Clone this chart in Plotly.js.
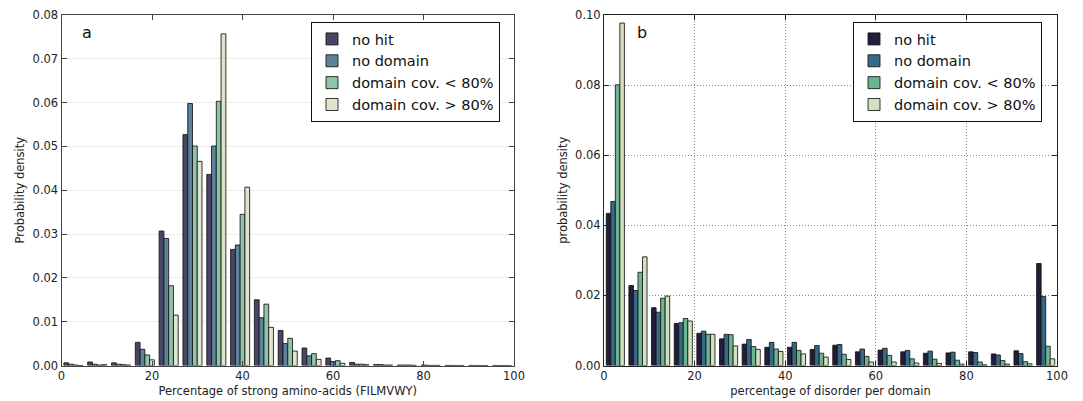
<!DOCTYPE html>
<html>
<head>
<meta charset="utf-8">
<script src="https://cdn.plot.ly/plotly-3.0.1.min.js"></script>
<style>html,body{margin:0;padding:0;background:#fff;}#chart{width:1083px;height:401px;}</style>
</head>
<body>
<div id="chart"></div>
<script>
// ---- Data ----
const seriesNames = ["no hit", "no domain", "domain cov. < 80%", "domain cov. > 80%"];

// Panel a: 19 bins across 0..100 (Percentage of strong amino-acids)
const binCountA = 19;
const noHitA      = [0.0006,0.0008,0.0006,0.0053,0.0307,0.0527,0.0436,0.0265,0.0150,0.0080,0.0040,0.0017,0.0007,0.0002,0.0001,0.0001,0.00003,0.00002,0.00001];
const noDomainA   = [0.0003,0.0003,0.0003,0.0037,0.0290,0.0598,0.0501,0.0275,0.0109,0.0050,0.0022,0.0009,0.0003,0.0002,0.0001,0.00005,0.00002,0.00001,0.0];
const covLowA     = [0.0001,0.0001,0.0002,0.0024,0.0182,0.0501,0.0603,0.0345,0.0140,0.0062,0.0027,0.0011,0.0003,0.0001,0.0001,0.00003,0.00001,0.0,0.0];
const covHighA    = [0.0000,0.0002,0.0001,0.0013,0.0115,0.0466,0.0757,0.0407,0.0087,0.0033,0.0014,0.0005,0.0002,0.0001,0.00005,0.00002,0.0,0.0,0.0];

// Panel b: 20 bins across 0..100 (percentage of disorder per domain)
const binCountB = 20;
const noHitB      = [0.0434,0.0228,0.0165,0.0120,0.0092,0.0076,0.0061,0.0052,0.0052,0.0046,0.0058,0.0039,0.0044,0.0039,0.0035,0.0036,0.0039,0.0033,0.0042,0.0291];
const noDomainB   = [0.0468,0.0214,0.0152,0.0122,0.0098,0.0089,0.0074,0.0066,0.0066,0.0057,0.0060,0.0047,0.0049,0.0043,0.0041,0.0038,0.0037,0.0030,0.0034,0.0197];
const covLowB     = [0.0801,0.0266,0.0192,0.0134,0.0089,0.0088,0.0054,0.0047,0.0043,0.0035,0.0032,0.0026,0.0029,0.0019,0.0018,0.0015,0.0010,0.0014,0.0011,0.0055];
const covHighB    = [0.0977,0.0310,0.0198,0.0127,0.0089,0.0056,0.0046,0.0040,0.0033,0.0024,0.0017,0.0010,0.0010,0.0007,0.0006,0.0004,0.0002,0.0004,0.0005,0.0019];

const xTicks = [0, 20, 40, 60, 80, 100];
const yTicksA = [0, 0.01, 0.02, 0.03, 0.04, 0.05, 0.06, 0.07, 0.08];
const yTicksB = [0, 0.02, 0.04, 0.06, 0.08, 0.10];

// ---- Styles ----
const colorsA = ["#4b4565", "#5b8399", "#8cc5a8", "#dfe4cc"];
const colorsB = ["#241c3b", "#356b86", "#6db592", "#d4e1c0"];
const FONT = "DejaVu Sans, sans-serif";

function centers(n) {
  const w = 100 / n;
  const out = [];
  for (let i = 0; i < n; i++) out.push(i * w + w / 2);
  return out;
}
const xA = centers(binCountA);
const xB = centers(binCountB);

const seriesA = [noHitA, noDomainA, covLowA, covHighA];
const seriesB = [noHitB, noDomainB, covLowB, covHighB];

const traces = [];
seriesA.forEach((ys, i) => traces.push({
  type: "bar", x: xA, y: ys, name: seriesNames[i],
  xaxis: "x", yaxis: "y", legend: "legend",
  marker: {color: colorsA[i], line: {color: "rgba(20,20,20,0.85)", width: 1}},
  hoverinfo: "x+y+name"
}));
seriesB.forEach((ys, i) => traces.push({
  type: "bar", x: xB, y: ys, name: seriesNames[i],
  xaxis: "x2", yaxis: "y2", legend: "legend2",
  marker: {color: colorsB[i], line: {color: "rgba(20,20,20,0.85)", width: 1}},
  hoverinfo: "x+y+name"
}));

const W = 1083, H = 401;
const yDom = [(H - 365.5) / H, (H - 15) / H];

const tickFont = {family: FONT, size: 11.5, color: "#222"};
const titleFont = {family: FONT, size: 11.5, color: "#222"};

const layout = {
  width: W, height: H,
  margin: {l: 0, r: 0, t: 0, b: 0},
  paper_bgcolor: "#fff", plot_bgcolor: "#fff",
  barmode: "group", bargap: 0.2, bargroupgap: 0,
  font: {family: FONT, color: "#222"},
  xaxis: {
    domain: [61.5 / W, 514 / W], range: [0, 100],
    tickvals: xTicks, ticks: "inside", ticklen: 5, tickcolor: "#444",
    showline: true, linecolor: "#444", linewidth: 1, mirror: "ticks",
    showgrid: false, zeroline: false, tickfont: tickFont,
    title: {text: "Percentage of strong amino-acids (FILMVWY)", font: titleFont, standoff: 4},
    anchor: "y"
  },
  yaxis: {
    domain: yDom, range: [0, 0.08],
    tickvals: yTicksA, tickformat: ".2f", ticks: "inside", ticklen: 5, tickcolor: "#444",
    showline: true, linecolor: "#444", linewidth: 1, mirror: "ticks",
    showgrid: true, gridcolor: "#ececec", gridwidth: 1, zeroline: false, tickfont: tickFont,
    title: {text: "Probability density", font: titleFont, standoff: 5},
    anchor: "x"
  },
  xaxis2: {
    domain: [604 / W, 1057 / W], range: [0, 100],
    tickvals: xTicks, ticks: "inside", ticklen: 5, tickcolor: "#222",
    showline: true, linecolor: "#222", linewidth: 1, mirror: "ticks",
    showgrid: true, gridcolor: "#8a8a8a", griddash: "1px,2px", gridwidth: 1,
    zeroline: false, tickfont: tickFont,
    title: {text: "percentage of disorder per domain", font: titleFont, standoff: 4},
    anchor: "y2"
  },
  yaxis2: {
    domain: yDom, range: [0, 0.10],
    tickvals: yTicksB, tickformat: ".2f", ticks: "inside", ticklen: 5, tickcolor: "#222",
    showline: true, linecolor: "#222", linewidth: 1, mirror: "ticks",
    showgrid: true, gridcolor: "#8a8a8a", griddash: "1px,2px", gridwidth: 1,
    zeroline: false, tickfont: tickFont,
    title: {text: "probability density", font: titleFont, standoff: 5},
    anchor: "x2"
  },
  legend: {
    x: 311 / W, y: 1 - 22 / H, xanchor: "left", yanchor: "top",
    bgcolor: "#fff", bordercolor: "#111", borderwidth: 1,
    font: {family: FONT, size: 14.5, color: "#111"}, tracegroupgap: 0
  },
  legend2: {
    x: 853 / W, y: 1 - 22 / H, xanchor: "left", yanchor: "top",
    bgcolor: "#fff", bordercolor: "#111", borderwidth: 1,
    font: {family: FONT, size: 14.5, color: "#111"}, tracegroupgap: 0
  },
  annotations: [
    {text: "a", xref: "paper", yref: "paper", x: 87 / W, y: 1 - 33 / H, showarrow: false,
     font: {family: FONT, size: 16, color: "#111"}, xanchor: "center", yanchor: "middle"},
    {text: "b", xref: "paper", yref: "paper", x: 642 / W, y: 1 - 33 / H, showarrow: false,
     font: {family: FONT, size: 16, color: "#111"}, xanchor: "center", yanchor: "middle"}
  ],
  showlegend: true
};

Plotly.newPlot("chart", traces, layout, {displayModeBar: false, staticPlot: true});
</script>
</body>
</html>
